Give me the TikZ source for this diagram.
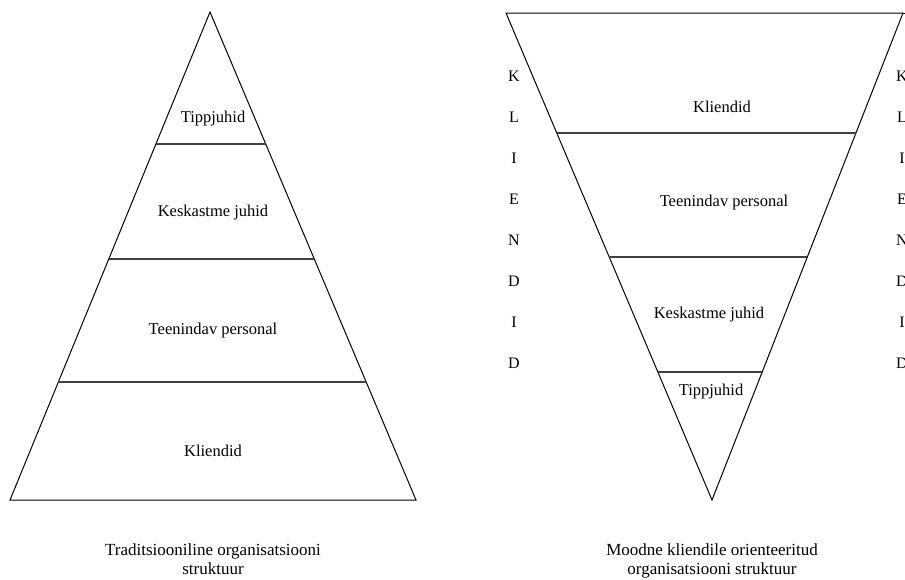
\documentclass[tikz,border=0pt]{standalone}
\usepackage{fontspec}
\setmainfont{Liberation Serif}
\begin{document}
\begin{tikzpicture}[x=1pt,y=-1pt,
  lbl/.style={font=\fontsize{16.5}{19}\selectfont, inner sep=0pt},
  captext/.style={font=\fontsize{17}{19}\selectfont, align=center, inner sep=0pt},
  letter/.style={font=\fontsize{16}{18}\selectfont, inner sep=0pt},
  sideline/.style={draw=black, line width=1pt},
  sepline/.style={draw=black!75, line width=1.3pt}]
\useasboundingbox (0,0) rectangle (905,579);
\clip (0,0) rectangle (905,579);
% Left pyramid
\coordinate (LA) at (210,12);
\coordinate (LB) at (10,500);
\coordinate (LC) at (416,500);
\draw[sideline] (LA) -- (LB) -- (LC) -- cycle;
\foreach \yy/\nm in {144/a,259/b,382/c}{
  \path (LA) -- (LB) coordinate[pos={(\yy-12)/488}] (L\nm l);
  \path (LA) -- (LC) coordinate[pos={(\yy-12)/488}] (L\nm r);
  \draw[sepline] (L\nm l) -- (L\nm r);
}
\node[lbl] (t1) at (213,119) {Tippjuhid};
\node[lbl] (t2) at (213,213) {Keskastme juhid};
\node[lbl] (t3) at (213,331) {Teenindav personal};
\node[lbl] (t4) at (213,451) {Kliendid};
\node[captext] (c1) at (213,559) {Traditsiooniline organisatsiooni\\struktuur};
% Right inverted pyramid
\coordinate (RA) at (506,13);
\coordinate (RB) at (903,13);
\coordinate (RC) at (712,500);
\coordinate (RE) at (905,13);
\draw[sideline] (RA) -- (RB) -- (RC) -- cycle;
\draw[sideline] (RB) -- (RE);
\foreach \yy/\nm in {133/a,257/b,372/c}{
  \path (RA) -- (RC) coordinate[pos={(\yy-13)/487}] (R\nm l);
  \path (RB) -- (RC) coordinate[pos={(\yy-13)/487}] (R\nm r);
  \draw[sepline] (R\nm l) -- (R\nm r);
}
\node[lbl] (s1) at (722,107) {Kliendid};
\node[lbl] (s2) at (724,203) {Teenindav personal};
\node[lbl] (s3) at (709,315) {Keskastme juhid};
\node[lbl] (s4) at (711,392) {Tippjuhid};
\node[captext] (c2) at (712,561) {Moodne kliendile orienteeritud\\organisatsiooni struktuur};
% Vertical letters
\foreach \ch [count=\i] in {K,L,I,E,N,D,I,D}{
  \node[letter] (kl\i) at (514,{76+41*(\i-1)}) {\ch};
  \node[letter] (kr\i) at (902,{76+41*(\i-1)}) {\ch};
}
\end{tikzpicture}
\end{document}
